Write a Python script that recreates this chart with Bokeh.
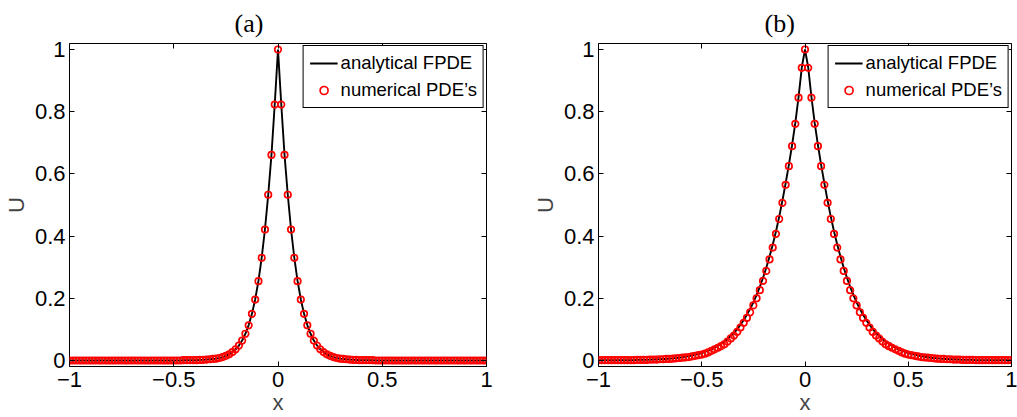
from bokeh.plotting import figure
from bokeh.layouts import row
from bokeh.models import Range1d, LinearAxis, FixedTicker, Legend, LegendItem, Title
from bokeh.embed import file_html
from bokeh.resources import INLINE

# ---- data (symmetric profiles, values read for x = 0, 1/64, 2/64, ..., 1) ----
x_step_den = 64
a_numerical_half = [1.000, 0.823, 0.661, 0.533, 0.421, 0.330, 0.255, 0.196, 0.150, 0.113,
                    0.086, 0.064, 0.048, 0.036, 0.027, 0.020, 0.015, 0.011, 0.008, 0.006,
                    0.005, 0.004, 0.003, 0.002, 0.002, 0.001, 0.001, 0.001, 0.001, 0.001,
                    0.000, 0.000, 0.000, 0.000, 0.000, 0.000, 0.000, 0.000, 0.000, 0.000,
                    0.000, 0.000, 0.000, 0.000, 0.000, 0.000, 0.000, 0.000, 0.000, 0.000,
                    0.000, 0.000, 0.000, 0.000, 0.000, 0.000, 0.000, 0.000, 0.000, 0.000,
                    0.000, 0.000, 0.000, 0.000, 0.000]
a_analytical_half = [1.000, 0.824, 0.662, 0.533, 0.422, 0.331, 0.256, 0.197, 0.150, 0.114,
                     0.086, 0.064, 0.048, 0.036, 0.027, 0.020, 0.015, 0.011, 0.008, 0.006,
                     0.005, 0.004, 0.003, 0.002, 0.002, 0.001, 0.001, 0.001, 0.001, 0.001,
                     0.000, 0.000, 0.000, 0.000, 0.000, 0.000, 0.000, 0.000, 0.000, 0.000,
                     0.000, 0.000, 0.000, 0.000, 0.000, 0.000, 0.000, 0.000, 0.000, 0.000,
                     0.000, 0.000, 0.000, 0.000, 0.000, 0.000, 0.000, 0.000, 0.000, 0.000,
                     0.000, 0.000, 0.000, 0.000, 0.000]
b_numerical_half = [1.000, 0.941, 0.845, 0.761, 0.689, 0.625, 0.565, 0.507, 0.455, 0.407,
                    0.363, 0.325, 0.288, 0.256, 0.226, 0.200, 0.177, 0.155, 0.137, 0.121,
                    0.106, 0.092, 0.080, 0.071, 0.061, 0.052, 0.046, 0.041, 0.036, 0.031,
                    0.026, 0.022, 0.019, 0.017, 0.015, 0.013, 0.011, 0.010, 0.009, 0.008,
                    0.007, 0.006, 0.005, 0.005, 0.004, 0.004, 0.003, 0.003, 0.003, 0.002,
                    0.002, 0.002, 0.002, 0.001, 0.001, 0.001, 0.001, 0.001, 0.001, 0.001,
                    0.001, 0.001, 0.001, 0.001, 0.001]
b_analytical_half = [1.000, 0.942, 0.847, 0.764, 0.693, 0.629, 0.570, 0.514, 0.462, 0.415,
                     0.372, 0.334, 0.298, 0.266, 0.237, 0.211, 0.187, 0.166, 0.147, 0.130,
                     0.115, 0.101, 0.089, 0.079, 0.069, 0.061, 0.054, 0.047, 0.041, 0.036,
                     0.032, 0.028, 0.024, 0.021, 0.019, 0.016, 0.014, 0.012, 0.011, 0.009,
                     0.008, 0.007, 0.006, 0.005, 0.005, 0.004, 0.004, 0.003, 0.003, 0.002,
                     0.002, 0.002, 0.002, 0.001, 0.001, 0.001, 0.001, 0.001, 0.001, 0.001,
                     0.001, 0.001, 0.001, 0.001, 0.001]

x_ticks = [-1, -0.5, 0, 0.5, 1]
x_tick_labels = ["\u22121", "\u22120.5", "0", "0.5", "1"]
y_ticks = [0, 0.2, 0.4, 0.6, 0.8, 1]
y_tick_labels = ["0", "0.2", "0.4", "0.6", "0.8", "1"]
panel_titles = ["(a)", "(b)"]
legend_labels = ["analytical FPDE", "numerical PDE\u2019s"]
x_label = "x"
y_label = "U"

x = [k / x_step_den for k in range(-x_step_den, x_step_den + 1)]


def full(half):
    return half[::-1] + half[1:]


SANS = "Liberation Sans"


def make_panel(title, ana_half, num_half, width, min_left, min_right, title_offset):
    p = figure(width=width, height=417, output_backend="svg", toolbar_location=None,
               x_range=Range1d(-1, 1), y_range=Range1d(-0.0193, 1.0193),
               min_border_left=min_left, min_border_right=min_right,
               min_border_top=43, min_border_bottom=51, background_fill_color="white",
               border_fill_color="white", title=None)
    p.xgrid.visible = False
    p.ygrid.visible = False
    p.outline_line_color = "black"
    p.outline_line_width = 1
    p.outline_line_alpha = 1

    r1 = p.line(x, full(ana_half), line_color="black", line_width=1.9)
    r2 = p.scatter(x, full(num_half), marker="circle", size=6.5, fill_color=None,
                   line_color="red", line_width=1.7)

    xt = dict(zip(x_ticks, x_tick_labels))
    yt = dict(zip(y_ticks, y_tick_labels))

    def style(ax, ticks, overrides, show):
        ax.ticker = FixedTicker(ticks=ticks)
        ax.major_label_overrides = overrides
        ax.major_tick_in = 5
        ax.major_tick_out = 0
        ax.major_tick_line_color = "black"
        ax.major_tick_line_width = 1
        ax.minor_tick_line_color = None
        ax.axis_line_color = None
        ax.major_label_text_font = SANS
        ax.major_label_text_color = "black"
        if show:
            ax.major_label_text_font_size = "22px"
            ax.major_label_standoff = 5
        else:
            ax.major_label_text_font_size = "0px"
            ax.major_label_standoff = 0

    style(p.xaxis[0], x_ticks, xt, True)
    p.xaxis[0].major_label_standoff = 5
    p.xaxis[0].axis_label = x_label
    p.xaxis[0].axis_label_text_font = SANS
    p.xaxis[0].axis_label_text_font_style = "normal"
    p.xaxis[0].axis_label_text_font_size = "22px"
    p.xaxis[0].axis_label_standoff = 0

    style(p.yaxis[0], y_ticks, yt, True)
    p.yaxis[0].major_label_standoff = 4
    p.yaxis[0].axis_label = y_label
    p.yaxis[0].axis_label_text_font = SANS
    p.yaxis[0].axis_label_text_font_style = "normal"
    p.yaxis[0].axis_label_text_font_size = "22px"
    p.yaxis[0].axis_label_standoff = 3

    top = LinearAxis()
    style(top, x_ticks, {t: "" for t in x_ticks}, False)
    p.add_layout(top, "above")
    right = LinearAxis()
    style(right, y_ticks, {t: "" for t in y_ticks}, False)
    p.add_layout(right, "right")

    t = Title(text=title, align="left", offset=title_offset, standoff=12,
              text_font="Liberation Serif", text_font_size="26px",
              text_font_style="normal", text_color="black")
    p.add_layout(t, "above")

    legend = Legend(items=[LegendItem(label=legend_labels[0], renderers=[r1]),
                           LegendItem(label=legend_labels[1], renderers=[r2])],
                    location="top_right")
    legend.border_line_color = "black"
    legend.border_line_width = 1
    legend.border_line_alpha = 1
    legend.background_fill_color = "white"
    legend.background_fill_alpha = 1
    legend.margin = 2
    legend.padding = 6
    legend.spacing = 5
    legend.glyph_width = 28
    legend.glyph_height = 20
    legend.label_height = 20
    legend.label_standoff = 3
    legend.label_text_font = SANS
    legend.label_text_font_size = "18.5px"
    legend.label_text_color = "black"
    p.add_layout(legend)
    return p


p1 = make_panel(panel_titles[0], a_analytical_half, a_numerical_half, 529, 69, 43, 165)
p2 = make_panel(panel_titles[1], b_analytical_half, b_numerical_half, 488, 66, 6, 166)

layout = row(p1, p2)
open("out.html", "w").write(file_html(layout, INLINE))
